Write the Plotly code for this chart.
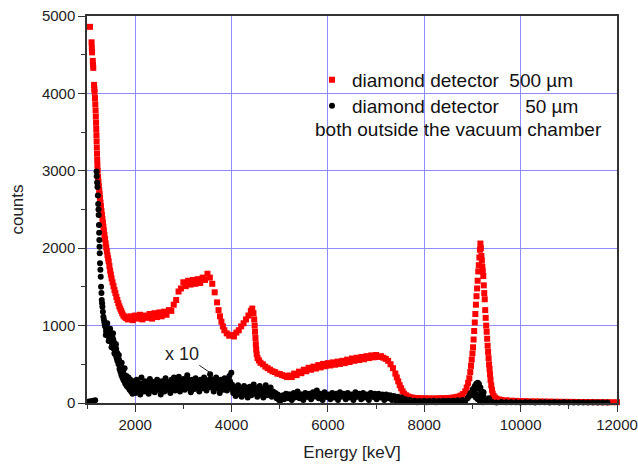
import plotly.graph_objects as go

# ---------------- data ----------------
# 500 um detector (red squares): energy [keV], counts
red_energy = [
    1062, 1095, 1100, 1105, 1120, 1125, 1130, 1147, 1152, 1157, 1165, 1172, 1178, 1183, 1188, 1192,
    1196, 1200, 1204, 1208, 1212, 1216, 1222, 1230, 1238, 1246, 1254, 1262, 1270, 1280, 1290, 1300,
    1310, 1320, 1330, 1340, 1350, 1362, 1375, 1388, 1400, 1412, 1425, 1438, 1450, 1465, 1480, 1495,
    1510, 1530, 1550, 1570, 1590, 1610, 1630, 1650, 1670, 1690, 1710, 1730, 1755, 1780, 1805, 1830,
    1850, 1900, 1950, 2000, 2050, 2100, 2150, 2200, 2250, 2300, 2350, 2400, 2450, 2500, 2550, 2600,
    2650, 2700, 2750, 2800, 2850, 2900, 2950, 3000, 3050, 3100, 3150, 3200, 3250, 3300, 3350, 3400,
    3450, 3500, 3550, 3600, 3650, 3700, 3730, 3760, 3790, 3820, 3850, 3900, 3950, 4000, 4050, 4100,
    4150, 4200, 4250, 4300, 4350, 4400, 4430, 4455, 4470, 4480, 4488, 4496, 4504, 4512, 4522, 4540,
    4570, 4600, 4650, 4700, 4750, 4800, 4850, 4900, 4950, 5000, 5050, 5100, 5150, 5200, 5250, 5300,
    5350, 5400, 5450, 5500, 5550, 5600, 5650, 5700, 5750, 5800, 5850, 5900, 5950, 6000, 6050, 6100,
    6150, 6200, 6250, 6300, 6350, 6400, 6450, 6500, 6550, 6600, 6650, 6700, 6750, 6800, 6850, 6900,
    6950, 7000, 7050, 7100, 7150, 7200, 7250, 7300, 7350, 7400, 7430, 7460, 7490, 7520, 7550, 7580,
    7620, 7660, 7700, 7750, 7800, 7850, 7900, 7950, 8000, 8050, 8100, 8150, 8200, 8250, 8300, 8350,
    8400, 8450, 8500, 8550, 8600, 8650, 8700, 8750, 8800, 8850, 8880, 8910, 8935, 8955, 8970, 8985,
    9000, 9012, 9024, 9036, 9048, 9060, 9072, 9084, 9096, 9108, 9120, 9132, 9144, 9155, 9165, 9175,
    9185, 9195, 9205, 9215, 9225, 9235, 9245, 9255, 9265, 9275, 9285, 9295, 9305, 9315, 9325, 9335,
    9345, 9355, 9365, 9375, 9390, 9405, 9420, 9440, 9470, 9500, 9550, 9600, 9700, 9800, 9900, 10000,
    10100, 10200, 10300, 10400, 10500, 10600, 10700, 10800, 10900, 11000, 11100, 11200, 11300, 11400,
    11500, 11600, 11700, 11800, 11900, 12000,
]
red_counts = [
    4860, 4660, 4590, 4530, 4420, 4370, 4330, 4110, 4060, 4020, 3940, 3860, 3780, 3700, 3620, 3540,
    3460, 3380, 3300, 3220, 3140, 3070, 3000, 2920, 2860, 2800, 2750, 2700, 2650, 2590, 2540, 2480,
    2430, 2380, 2330, 2280, 2230, 2170, 2120, 2060, 2010, 1960, 1910, 1870, 1830, 1770, 1710, 1660,
    1610, 1560, 1510, 1460, 1420, 1370, 1330, 1290, 1250, 1220, 1190, 1160, 1130, 1115, 1100, 1095,
    1080, 1120, 1070, 1130, 1090, 1140, 1080, 1130, 1100, 1150, 1090, 1160, 1110, 1170, 1120, 1180,
    1140, 1200, 1190, 1270, 1330, 1440, 1480, 1560, 1510, 1580, 1530, 1590, 1540, 1600, 1550, 1620,
    1590, 1670, 1620, 1540, 1430, 1300, 1200, 1120, 1050, 990, 940, 900, 870, 880, 860, 910,
    940, 990, 1030, 1080, 1130, 1190, 1220, 1160, 1080, 1000, 920, 840, 760, 690, 630, 580,
    550, 520, 500, 470, 450, 430, 410, 400, 380, 375, 360, 350, 335, 355, 335, 380,
    360, 405, 385, 430, 410, 455, 430, 470, 445, 490, 460, 505, 475, 515, 485, 525,
    495, 535, 505, 545, 515, 560, 530, 575, 545, 585, 555, 595, 565, 605, 580, 615,
    590, 620, 595, 605, 585, 570, 545, 500, 450, 380, 330, 280, 230, 190, 150, 120,
    100, 85, 75, 70, 65, 62, 60, 60, 58, 58, 57, 57, 57, 58, 58, 60,
    60, 62, 64, 66, 70, 75, 82, 95, 115, 150, 200, 260, 320, 400, 480, 560,
    640, 720, 820, 930, 1040, 1150, 1270, 1380, 1480, 1580, 1700, 1780, 1880, 1980, 2060, 2000,
    1900, 1840, 1760, 1700, 1640, 1520, 1420, 1340, 1200, 1100, 1000, 920, 830, 740, 660, 580,
    500, 440, 370, 300, 230, 170, 120, 90, 70, 55, 45, 40, 35, 30, 28, 25,
    24, 22, 21, 20, 19, 18, 17, 16, 15, 15, 14, 13, 13, 12,
    12, 11, 11, 10, 10, 10,
]

# 50 um detector, multiplied by 10 (black dots): energy [keV], counts
black_energy = [
    1020, 1050, 1080, 1110, 1140, 1170,
    1198, 1202, 1210, 1218, 1226, 1232, 1238, 1242, 1248, 1252, 1256, 1260, 1264, 1270, 1278, 1285,
    1292, 1300, 1306, 1313, 1320, 1330, 1340, 1350, 1360, 1370,
    1385, 1395, 1405, 1415, 1425, 1435, 1445, 1455, 1465, 1475, 1485, 1495, 1505, 1515, 1525, 1535,
    1545, 1555, 1565, 1575, 1585, 1595, 1605, 1615, 1625, 1635, 1645, 1655, 1665, 1675, 1685, 1695,
    1705, 1715, 1725, 1735, 1745, 1755, 1765, 1775, 1785, 1795, 1810, 1825, 1840, 1855, 1870, 1885,
    1900, 1915, 1930, 1945, 1960, 1975, 1990,
    1390, 1420, 1450, 1480, 1510, 1540, 1570, 1600, 1630, 1660, 1690, 1720, 1750, 1780, 1820, 1860,
    1895, 1935, 1970,
    2005, 2030, 2055, 2080, 2105, 2130, 2155, 2180, 2205, 2230, 2255, 2280, 2305, 2330, 2355, 2380,
    2405, 2430, 2455, 2480, 2505, 2530, 2555, 2580, 2605, 2630, 2655, 2680, 2705, 2730, 2755, 2780,
    2805, 2830, 2855, 2880, 2905, 2930, 2955, 2980, 3005, 3030, 3055, 3080, 3105, 3130, 3155, 3180,
    3205, 3230, 3255, 3280, 3305, 3330, 3355, 3380, 3405, 3430, 3455, 3480, 3505, 3530, 3555, 3580,
    3605, 3630, 3655, 3680, 3705, 3730, 3755, 3780, 3805, 3830, 3855, 3880, 3905, 3930, 3955, 3980,
    3995,
    2018, 2043, 2068, 2093, 2118, 2143, 2168, 2193, 2218, 2243, 2268, 2293, 2318, 2343, 2368, 2393,
    2418, 2443, 2468, 2493, 2518, 2543, 2568, 2593, 2618, 2643, 2668, 2693, 2718, 2743, 2768, 2793,
    2818, 2843, 2868, 2893, 2918, 2943, 2968, 2993, 3018, 3043, 3068, 3093, 3118, 3143, 3168, 3193,
    3218, 3243, 3268, 3293, 3318, 3343, 3368, 3393, 3418, 3443, 3468, 3493, 3518, 3543, 3568, 3593,
    3618, 3643, 3668, 3693, 3718, 3743, 3768, 3793, 3818, 3843, 3868, 3893, 3918, 3943, 3968,
    4010, 4035, 4060, 4085, 4110, 4135, 4160, 4185, 4210, 4235, 4260, 4285, 4310, 4335, 4360, 4385,
    4410, 4435, 4460, 4485, 4510, 4535, 4560, 4585, 4610, 4635, 4660, 4685, 4710, 4735, 4760, 4785,
    4810, 4835, 4860, 4885, 4910, 4935, 4960, 4985,
    4022, 4047, 4072, 4097, 4122, 4147, 4172, 4197, 4222, 4247, 4272, 4297, 4322, 4347, 4372, 4397,
    4422, 4447, 4472, 4497, 4522, 4547, 4572, 4597, 4622, 4647, 4672, 4697, 4722, 4747, 4772, 4797,
    4822, 4847, 4872, 4897,
    5010, 5050, 5090, 5130, 5170, 5210, 5250, 5290, 5330, 5370, 5410, 5450, 5490, 5530, 5570, 5610,
    5650, 5690, 5730, 5770, 5810, 5850, 5890, 5930, 5970, 6010, 6050, 6090, 6130, 6170, 6210, 6250,
    6290, 6330, 6370, 6410, 6450, 6490, 6530, 6570, 6610, 6650, 6690, 6730, 6770, 6810, 6850, 6890,
    6930, 6970, 7010, 7050, 7090, 7130, 7170, 7210, 7250, 7290, 7330, 7370, 7410, 7450, 7490, 7530,
    7570, 7610, 7650, 7700, 7750, 7800,
    5030, 5070, 5110, 5150, 5190, 5230, 5270, 5310, 5350, 5390, 5430, 5470, 5510, 5550, 5590, 5630,
    5670, 5710, 5750, 5790, 5830, 5870, 5910, 5950, 5990, 6030, 6070, 6110, 6150, 6190, 6230, 6270,
    6310, 6350, 6390, 6430, 6470, 6510, 6550, 6590, 6630, 6670, 6710, 6750, 6790, 6830, 6870, 6910,
    6950, 6990, 7030, 7070, 7110, 7150, 7190, 7230, 7270, 7310, 7350, 7390, 7430, 7470,
    7850, 7900, 7950, 8000, 8050, 8100, 8150, 8200, 8250, 8300, 8350, 8400, 8450, 8500, 8550, 8600,
    8650, 8700, 8750, 8800, 8850, 8900, 8930,
    8960, 8990, 9010, 9030, 9050, 9065, 9080, 9095, 9110, 9125, 9135, 9150, 9165, 9180, 9195, 9210,
    9225, 9240, 9255, 9270, 9290, 9310, 9340,
    9070, 9110, 9150, 9190, 9230, 9120, 9160, 9060, 9100, 9140, 9180, 9220,
    9400, 9500, 9600, 9700, 9800, 9900, 10000, 10100, 10200, 10300, 10400, 10500, 10600, 10700,
    10800, 10900, 11000, 11100, 11200, 11300, 11400, 11500, 11600, 11700, 11800, 11900, 12000,
]
black_counts = [
    15, 20, 18, 25, 30, 35,
    2990, 2930, 2850, 2790, 2680, 2570, 2500, 2430, 2300, 2200, 2106, 2020, 1934, 1805, 1720, 1632,
    1503, 1420, 1331, 1290, 1244, 1180, 1115, 1080, 1040, 1000,
    980, 930, 1000, 900, 960, 880, 940, 850, 920, 830, 900, 810, 880, 780, 860, 740,
    820, 700, 780, 650, 740, 620, 700, 580, 650, 540, 600, 500, 560, 440, 520, 400,
    470, 360, 430, 330, 400, 300, 370, 280, 350, 250, 320, 220, 300, 200, 280, 170,
    300, 150, 260, 120, 280, 160, 240,
    880, 1030, 800, 960, 720, 900, 640, 760, 560, 620, 500, 520, 420, 450, 350, 330,
    210, 200, 200,
    130, 300, 180, 260, 110, 330, 200, 150, 280, 190, 240, 120, 310, 210, 160, 270,
    140, 230, 300, 170, 250, 110, 280, 200, 150, 320, 230, 180, 270, 130, 300, 210,
    330, 160, 260, 200, 340, 150, 280, 220, 310, 170, 250, 360, 190, 280, 140, 300,
    230, 180, 320, 210, 260, 150, 300, 240, 190, 330, 220, 160, 290, 250, 370, 200,
    300, 150, 270, 330, 190, 280, 130, 300, 220, 170, 320, 240, 160, 300, 350, 200,
    390,
    210, 240, 160, 200, 250, 180, 230, 270, 210, 150, 200, 250, 230, 180, 220, 190,
    260, 190, 230, 210, 180, 240, 200, 250, 190, 220, 170, 260, 200, 240, 180, 230,
    250, 210, 290, 230, 190, 260, 210, 250, 220, 280, 200, 240, 300, 220, 260, 200,
    240, 270, 210, 250, 230, 200, 280, 220, 260, 240, 210, 290, 230, 270, 310, 240,
    260, 210, 290, 240, 220, 270, 200, 250, 230, 280, 240, 210, 260, 230, 280,
    240, 130, 200, 90, 170, 230, 120, 190, 80, 160, 220, 110, 180, 70, 150, 210,
    100, 170, 240, 120, 190, 80, 160, 220, 110, 180, 70, 150, 230, 100, 170, 120,
    200, 80, 150, 100, 130, 60, 110, 40,
    170, 150, 130, 190, 150, 120, 200, 140, 160, 130, 180, 120, 150, 200, 140, 160,
    130, 170, 140, 190, 150, 120, 170, 140, 180, 130, 160, 120, 170, 140, 180, 130,
    150, 120, 140, 90,
    30, 90, 50, 120, 60, 110, 40, 130, 80, 150, 60, 110, 40, 130, 80, 120,
    50, 140, 90, 160, 60, 120, 40, 140, 80, 110, 50, 130, 70, 120, 40, 140,
    90, 120, 50, 130, 70, 110, 40, 140, 80, 120, 50, 130, 70, 110, 40, 130,
    80, 120, 50, 120, 70, 110, 40, 110, 60, 100, 40, 90, 50, 80, 30, 70,
    30, 50, 20, 40, 20, 30,
    70, 100, 80, 90, 110, 80, 95, 70, 100, 85, 110, 75, 95, 80, 100, 90,
    70, 105, 85, 95, 75, 110, 90, 80, 100, 70, 95, 85, 105, 75, 100, 80,
    90, 110, 75, 95, 85, 100, 70, 90, 105, 80, 95, 75, 100, 85, 90, 110,
    80, 95, 70, 100, 85, 90, 75, 95, 80, 70, 60, 55,
    15, 30, 10, 25, 15, 30, 10, 25, 15, 30, 10, 25, 15, 30, 15, 30,
    15, 30, 20, 35, 25, 40, 25,
    60, 90, 130, 100, 180, 140, 220, 180, 250, 200, 262, 220, 245, 180, 200, 130,
    150, 80, 100, 40, 50, 20, 25,
    40, 60, 70, 50, 30, 130, 140, 60, 100, 120, 80, 50,
    15, 10, 15, 8, 12, 10, 9, 11, 8, 10, 9, 8, 10, 9,
    8, 9, 8, 9, 8, 7, 8, 7, 8, 7, 7, 6, 7,
]

x_ticks = [2000, 4000, 6000, 8000, 10000, 12000]
x_tick_labels = ["2000", "4000", "6000", "8000", "10000", "12000"]
y_ticks = [0, 1000, 2000, 3000, 4000, 5000]
y_tick_labels = ["0", "1000", "2000", "3000", "4000", "5000"]

FONT = "Liberation Sans, Arial, sans-serif"
GRID = "#8d8dff"

fig = go.Figure()
fig.add_trace(go.Scatter(
    x=red_energy, y=red_counts, mode="markers", cliponaxis=False,
    name="diamond detector\u00a0\u00a0500 \u00b5m",
    marker=dict(symbol="square", size=6, color="#ff0000", line=dict(width=0)),
    legend="legend",
))
fig.add_trace(go.Scatter(
    x=black_energy, y=black_counts, mode="markers", cliponaxis=False,
    name="diamond detector\u00a0\u00a0\u00a0\u00a0\u00a050 \u00b5m",
    marker=dict(symbol="circle", size=6, color="#000000", line=dict(width=0)),
    legend="legend2",
))

fig.add_annotation(
    x=0.7, y=0.706, xref="paper", yref="paper", xanchor="center", yanchor="middle",
    text="both outside the vacuum chamber", showarrow=False,
    font=dict(family=FONT, size=19, color="#111"),
)
fig.add_annotation(
    x=3560, y=390, xref="x", yref="y", text="x 10",
    showarrow=True, arrowhead=0, arrowwidth=1, arrowcolor="#222",
    ax=-28, ay=-19, font=dict(family=FONT, size=18, color="#222"),
)

axis_common = dict(
    showline=True, linecolor="#333", linewidth=1.5, mirror=True,
    showgrid=True, gridcolor=GRID, gridwidth=1, zeroline=False,
    ticks="outside", ticklen=7, tickwidth=1.2, tickcolor="#333",
    tickfont=dict(family=FONT, size=15, color="#222"),
    automargin=False,
)

fig.update_xaxes(
    range=[1000, 12000], tickvals=x_ticks, ticktext=x_tick_labels,
    minor=dict(ticks="outside", ticklen=4, tickcolor="#333", dtick=1000, tick0=0, showgrid=False),
    title=dict(text="Energy [keV]", font=dict(family=FONT, size=17, color="#222"), standoff=14),
    **axis_common,
)
fig.update_yaxes(
    range=[0, 5000], tickvals=y_ticks, ticktext=y_tick_labels,
    minor=dict(ticks="outside", ticklen=4, tickcolor="#333", dtick=500, tick0=0, showgrid=False),
    title=dict(text="counts", font=dict(family=FONT, size=17, color="#222"), standoff=14),
    **axis_common,
)

legend_common = dict(
    xanchor="left", yanchor="middle",
    bgcolor="rgba(0,0,0,0)", borderwidth=0,
    font=dict(family=FONT, size=19, color="#111"),
)
fig.update_layout(
    width=638, height=466,
    margin=dict(l=87, r=21, t=16, b=63),
    paper_bgcolor="white", plot_bgcolor="white",
    font=dict(family=FONT, color="#222"),
    showlegend=True,
    legend=dict(x=0.4245, y=0.835, **legend_common),
    legend2=dict(x=0.4245, y=0.768, **legend_common),
)

fig.write_html(
    "out.html",
    config={"displayModeBar": False},
    post_script="document.body.style.margin='0';document.body.style.overflow='hidden';",
)
